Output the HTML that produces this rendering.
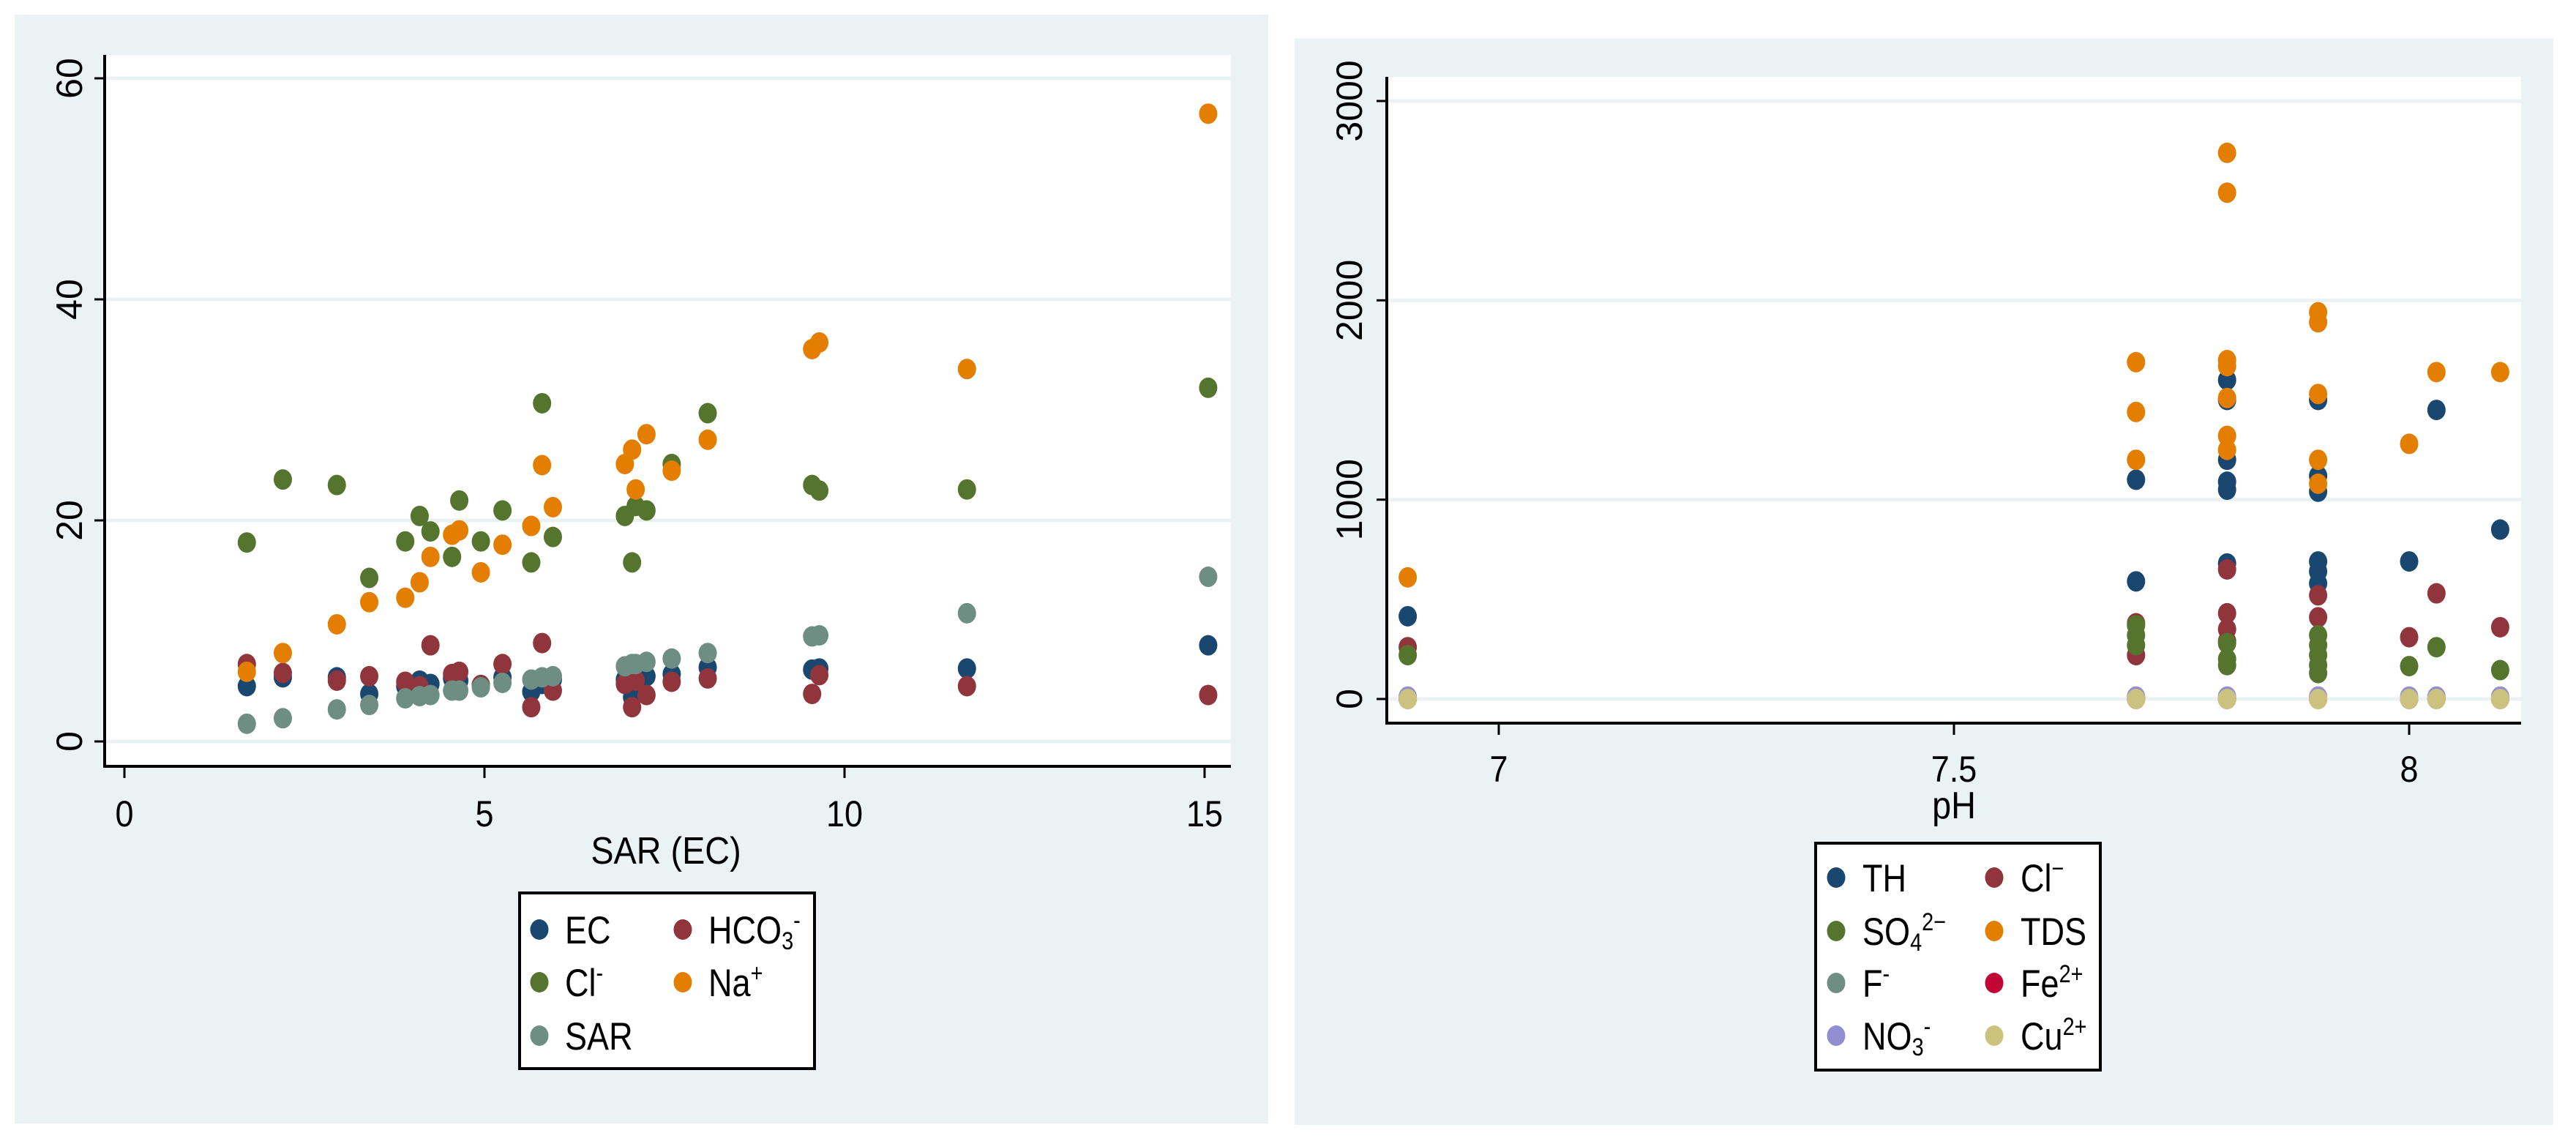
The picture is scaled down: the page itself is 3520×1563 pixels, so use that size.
<!DOCTYPE html>
<html><head><meta charset="utf-8"><style>
html,body{margin:0;padding:0;background:#fff;}
svg{display:block;}
text{font-family:"Liberation Sans",sans-serif;fill:#000;}
</style></head><body>
<svg id="svg" width="3520" height="1563" viewBox="0 0 3520 1563" xmlns="http://www.w3.org/2000/svg">
<rect x="0" y="0" width="3520" height="1563" fill="#fff"/>
<g id="left"></g>
<g id="right"></g>
</svg>
<script>
// ---- Left chart data ----
const sarX = [1.7,2.2,2.95,3.4,3.9,4.1,4.25,4.55,4.65,4.95,5.25,5.65,5.8,5.95,6.95,7.05,7.1,7.25,7.6,8.1,9.55,9.65,11.7,15.05];
const ecVals = [5,5.8,5.8,4.3,5,5.5,5.2,5.7,5.5,5.1,5.8,4.5,5.2,5.6,5.6,4,5.3,5.9,6.1,6.7,6.5,6.6,6.6,8.7];
const hco3Vals = [7,6.2,5.5,5.9,5.4,5,8.7,6.1,6.3,5.1,7,3.1,8.9,4.6,5.2,3.1,5.5,4.2,5.4,5.7,4.3,6,5,4.2];
const clVals = [18,23.7,23.2,14.8,18.1,20.4,19,16.7,21.8,18.1,20.9,16.2,30.6,18.5,20.4,16.2,21.3,20.9,25.1,29.7,23.2,22.7,22.8,32];
const naVals = [6.3,8,10.6,12.6,13,14.4,16.7,18.7,19.1,15.3,17.8,19.5,25,21.2,25.1,26.4,22.8,27.8,24.5,27.3,35.5,36.1,33.7,56.8];
const sarVals = [1.6,2.1,2.9,3.3,3.9,4.1,4.2,4.6,4.6,4.9,5.3,5.6,5.8,5.9,6.8,7,7,7.2,7.5,8,9.5,9.6,11.6,14.9];
const leftXTicks = [0,5,10,15];
const leftYTicks = [0,20,40,60];

// ---- Right chart data ----
const thPts = [[6.9,415],[7.7,1100],[7.7,590],[7.8,1600],[7.8,1500],[7.8,1200],[7.8,1090],[7.8,1050],[7.8,680],[7.9,1500],[7.9,1120],[7.9,1040],[7.9,690],[7.9,640],[7.9,580],[8.0,690],[8.03,1450],[8.1,850]];
const clPts = [[6.9,260],[7.7,380],[7.7,220],[7.8,650],[7.8,430],[7.8,350],[7.8,290],[7.9,520],[7.9,410],[8.0,310],[8.03,530],[8.1,360]];
const so4Pts = [[6.9,220],[7.7,370],[7.7,320],[7.7,270],[7.8,280],[7.8,200],[7.8,170],[7.9,320],[7.9,270],[7.9,220],[7.9,170],[7.9,130],[8.0,165],[8.03,260],[8.1,145]];
const tdsPts = [[6.9,610],[7.7,1690],[7.7,1440],[7.7,1200],[7.8,2740],[7.8,2540],[7.8,1700],[7.8,1670],[7.8,1510],[7.8,1320],[7.8,1250],[7.9,1940],[7.9,1890],[7.9,1530],[7.9,1200],[7.9,1080],[8.0,1280],[8.03,1640],[8.1,1640]];
const fPts = [[6.9,1],[7.7,1],[7.8,1],[7.9,1],[8.0,1],[8.03,1],[8.1,1]];
const fePts = [[6.9,0.3],[7.7,0.3],[7.8,0.3],[7.9,0.3],[8.0,0.3],[8.03,0.3],[8.1,0.3]];
const no3Pts = [[6.9,12],[7.7,12],[7.8,12],[7.9,12],[8.0,12],[8.03,12],[8.1,12]];
const cuPts = [[6.9,0],[7.7,0],[7.8,0],[7.9,0],[8.0,0],[8.03,0],[8.1,0]];
const rightXTicks = [7,7.5,8];
const rightXLabels = ["7","7.5","8"];
const rightYTicks = [0,1000,2000,3000];

const NS = "http://www.w3.org/2000/svg";
function mk(parent, tag, attrs){const e=document.createElementNS(NS,tag);for(const k in attrs)e.setAttribute(k,attrs[k]);parent.appendChild(e);return e;}
function txt(parent,x,y,s,size,anchor,rot,sx){
  const t=document.createElementNS(NS,'text');
  t.setAttribute('font-size',size);t.setAttribute('text-anchor',anchor);
  t.setAttribute('transform','translate('+x+','+y+') rotate('+(rot||0)+') scale('+(sx||0.9)+',1)');
  t.innerHTML=s;parent.appendChild(t);return t;
}
const C={navy:'#1a476f',maroon:'#90353b',green:'#55752f',orange:'#e37e00',teal:'#6e8e84',red:'#c10534',lav:'#938dd2',cu:'#cac27e'};

function panel(g,bx,by,bw,bh,px0,py0,px1,py1){
  const bg=mk(g,'rect',{x:bx,y:by,width:bw,height:bh,fill:'#eaf2f3'});
  
  const pa=mk(g,'rect',{x:px0,y:py0,width:px1-px0,height:py1-py0,fill:'#fff'});
  
}
function dot(g,x,y,col,name){
  const e=mk(g,'ellipse',{cx:x,cy:y,rx:12.5,ry:14,fill:col});
  
  
}

// ---------- LEFT ----------
(function(){
  const g=document.getElementById('left');
  const X0=143,X1=1682,Y0=75,Y1=1047;
  panel(g,20,20,1713,1515,X0,Y0,X1,Y1);
  const xs=v=>170+v*(1646-170)/15;
  const ys=v=>1013-v*(1013-107)/60;
  leftYTicks.forEach(v=>{
    const l=mk(g,'line',{x1:X0,x2:X1,y1:ys(v),y2:ys(v),stroke:'#eaf2f3','stroke-width':5});
    
    const tk=mk(g,'line',{x1:X0-14,x2:X0,y1:ys(v),y2:ys(v),stroke:'#000','stroke-width':3});
    
    const t=txt(g,112,ys(v),String(v),50,'middle',-90,1);
    
  });
  leftXTicks.forEach(v=>{
    const tk=mk(g,'line',{x1:xs(v),x2:xs(v),y1:Y1,y2:Y1+16,stroke:'#000','stroke-width':3});
    
    const t=txt(g,xs(v),Y1+82,String(v),50,'middle',0);
    
  });
  const ax=mk(g,'path',{d:`M${X0},${Y0} V${Y1} H${X1}`,stroke:'#000','stroke-width':4,fill:'none'});
  
  const tt=txt(g,910,1180,'SAR (EC)',52,'middle',0);
  
  const series=[[ecVals,C.navy,'ec'],[hco3Vals,C.maroon,'hco3'],[clVals,C.green,'cl'],[naVals,C.orange,'na'],[sarVals,C.teal,'sar']];
  series.forEach(s=>{sarX.forEach((x,i)=>dot(g,xs(x),ys(s[0][i]),s[1],s[2]+'-point'));});
  const lg=mk(g,'g',{});
  
  mk(lg,'rect',{x:710,y:1220,width:403,height:240,fill:'#fff',stroke:'#000','stroke-width':4});
  const items=[[737,1270,C.navy,'EC'],[933,1270,C.maroon,'HCO<tspan font-size="34" dy="8">3</tspan><tspan font-size="34" dy="-28">-</tspan>'],
    [737,1342,C.green,'Cl<tspan font-size="34" dy="-20">-</tspan>'],[933,1342,C.orange,'Na<tspan font-size="34" dy="-20">+</tspan>'],[737,1415,C.teal,'SAR']];
  items.forEach(it=>{
    const e=mk(lg,'ellipse',{cx:it[0],cy:it[1],rx:12.5,ry:14,fill:it[2]});
    
    const t=txt(lg,it[0]+35,it[1]+19,it[3],53,'start',0,0.85);
    
  });
})();

// ---------- RIGHT ----------
(function(){
  const g=document.getElementById('right');
  const X0=1895,X1=3445,Y0=105,Y1=988;
  panel(g,1769,53,1720,1484,X0,Y0,X1,Y1);
  const xs=v=>2048+(v-7)*(3292-2048);
  const ys=v=>955-v*(955-138)/3000;
  rightYTicks.forEach(v=>{
    const l=mk(g,'line',{x1:X0,x2:X1,y1:ys(v),y2:ys(v),stroke:'#eaf2f3','stroke-width':5});
    
    const tk=mk(g,'line',{x1:X0-14,x2:X0,y1:ys(v),y2:ys(v),stroke:'#000','stroke-width':3});
    
    const t=txt(g,1861,ys(v),String(v),50,'middle',-90,1);
    
  });
  rightXTicks.forEach((v,i)=>{
    const tk=mk(g,'line',{x1:xs(v),x2:xs(v),y1:Y1,y2:Y1+16,stroke:'#000','stroke-width':3});
    
    const t=txt(g,xs(v),Y1+80,rightXLabels[i],50,'middle',0);
    
  });
  const ax=mk(g,'path',{d:`M${X0},${Y0} V${Y1} H${X1}`,stroke:'#000','stroke-width':4,fill:'none'});
  
  const tt=txt(g,2670,1118,'pH',52,'middle',0);
  
  const series=[[thPts,C.navy,'th'],[clPts,C.maroon,'cl'],[so4Pts,C.green,'so4'],[tdsPts,C.orange,'tds'],[fPts,C.teal,'f'],[fePts,C.red,'fe'],[no3Pts,C.lav,'no3'],[cuPts,C.cu,'cu']];
  series.forEach(s=>{s[0].forEach(p=>dot(g,xs(p[0]),ys(p[1]),s[1],s[2]+'-point'));});
  const lg=mk(g,'g',{});
  
  mk(lg,'rect',{x:2481,y:1152,width:389,height:310,fill:'#fff',stroke:'#000','stroke-width':4});
  const sup=s=>'<tspan font-size="34" dy="-20">'+s+'</tspan>';
  const items=[[2509,1199,C.navy,'TH'],[2725,1199,C.maroon,'Cl'+sup('−')],
    [2509,1272,C.green,'SO<tspan font-size="34" dy="8">4</tspan><tspan font-size="34" dy="-28">2−</tspan>'],[2725,1272,C.orange,'TDS'],
    [2509,1343,C.teal,'F'+sup('-')],[2725,1343,C.red,'Fe'+sup('2+')],
    [2509,1415,C.lav,'NO<tspan font-size="34" dy="8">3</tspan><tspan font-size="34" dy="-28">-</tspan>'],[2725,1415,C.cu,'Cu'+sup('2+')]];
  items.forEach(it=>{
    const e=mk(lg,'ellipse',{cx:it[0],cy:it[1],rx:12.5,ry:14,fill:it[2]});
    
    const t=txt(lg,it[0]+36,it[1]+19,it[3],53,'start',0,0.85);
    
  });
})();
</script>
</body></html>
